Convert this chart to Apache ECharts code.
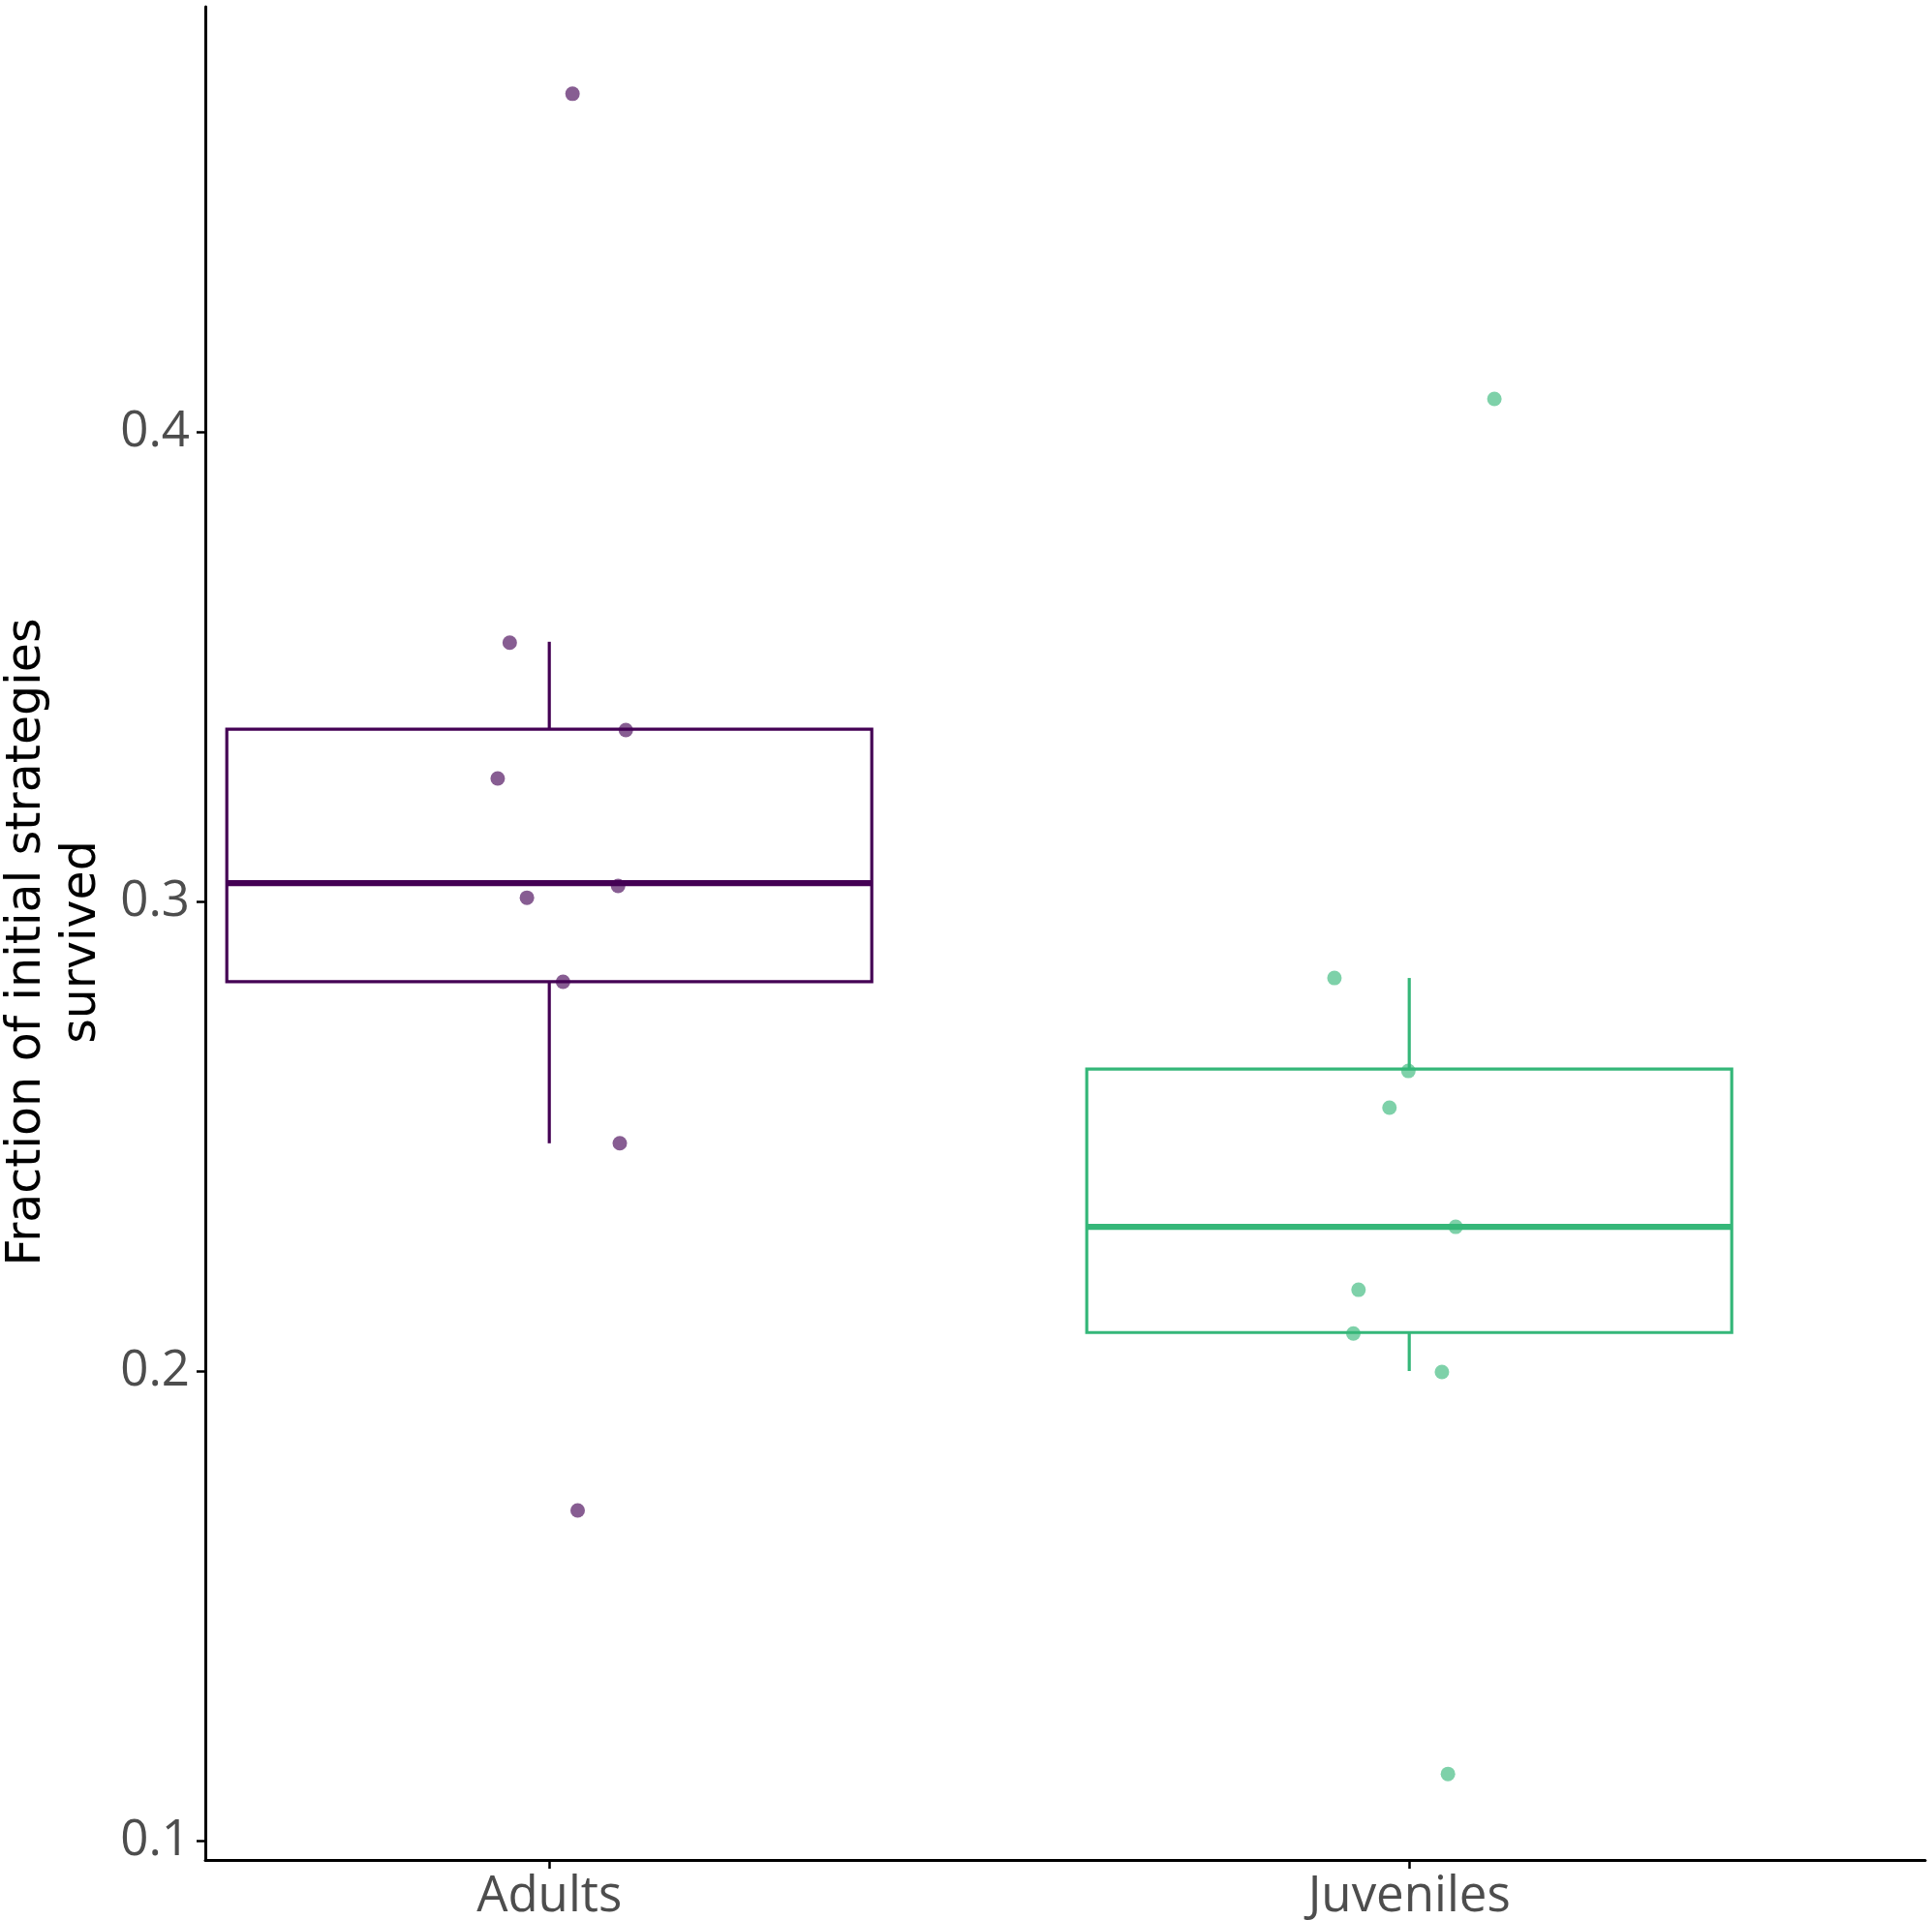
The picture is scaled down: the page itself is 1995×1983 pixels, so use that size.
<!DOCTYPE html>
<html>
<head>
<meta charset="utf-8">
<script src="https://cdn.jsdelivr.net/npm/echarts@6/dist/echarts.min.js"></script>
<style>
  html, body { margin: 0; padding: 0; background: #ffffff; }
  #chart { width: 1995px; height: 1983px; }
</style>
</head>
<body>
<div id="chart"></div>
<script>
// ---- Data ----
const categories = ['Adults', 'Juveniles'];
const yTicks = [0.1, 0.2, 0.3, 0.4];

// Box statistics: [lower whisker, Q1, median, Q3, upper whisker]
const adultsBox = [0.2485, 0.2829, 0.3039, 0.3367, 0.3553];
const juvenilesBox = [0.2000, 0.2082, 0.2307, 0.2643, 0.2837];

// Individual observations (jittered points)
const adultsValues = [0.472, 0.3551, 0.3365, 0.3262, 0.3033, 0.3008, 0.2829, 0.2485, 0.1703];
const adultsJitter = [0.027, -0.046, 0.089, -0.060, 0.080, -0.026, 0.016, 0.082, 0.033];
const juvenilesValues = [0.407, 0.2837, 0.2639, 0.2561, 0.2307, 0.2173, 0.2080, 0.1998, 0.1142];
const juvenilesJitter = [0.099, -0.087, -0.001, -0.023, 0.054, -0.059, -0.065, 0.038, 0.045];

const boxColors = ['#440154', '#35b779'];
const pointColors = ['rgba(68,1,84,0.8)', 'rgba(53,183,121,0.8)'];

// ---- Build series data ----
const boxData = [
  [1].concat(adultsBox),
  [2].concat(juvenilesBox)
];
const adultsPoints = adultsValues.map((v, i) => [1 + adultsJitter[i], v]);
const juvenilesPoints = juvenilesValues.map((v, i) => [2 + juvenilesJitter[i], v]);

const HALF = 0.375;

function renderBox(params, api) {
  const x = api.value(0);
  const lo = api.value(1), q1 = api.value(2), med = api.value(3), q3 = api.value(4), hi = api.value(5);
  const color = boxColors[params.dataIndex];
  const pL3 = api.coord([x - HALF, q3]);
  const pR1 = api.coord([x + HALF, q1]);
  const pMedL = api.coord([x - HALF, med]);
  const pMedR = api.coord([x + HALF, med]);
  const pHi = api.coord([x, hi]);
  const pQ3 = api.coord([x, q3]);
  const pQ1 = api.coord([x, q1]);
  const pLo = api.coord([x, lo]);
  const lw = 3.2;
  return {
    type: 'group',
    children: [
      { type: 'line', shape: { x1: pHi[0], y1: pHi[1], x2: pQ3[0], y2: pQ3[1] }, style: { stroke: color, lineWidth: lw } },
      { type: 'line', shape: { x1: pQ1[0], y1: pQ1[1], x2: pLo[0], y2: pLo[1] }, style: { stroke: color, lineWidth: lw } },
      { type: 'rect', shape: { x: pL3[0], y: pL3[1], width: pR1[0] - pL3[0], height: pR1[1] - pL3[1] },
        style: { stroke: color, fill: 'rgba(255,255,255,0)', lineWidth: lw } },
      { type: 'line', shape: { x1: pMedL[0], y1: pMedL[1], x2: pMedR[0], y2: pMedR[1] }, style: { stroke: color, lineWidth: 6.4 } }
    ]
  };
}

const chart = echarts.init(document.getElementById('chart'), null, { renderer: 'canvas' });
const labelFont = '"Open Sans", Lato, sans-serif';
const titleFont = '"DejaVu Sans", sans-serif';

chart.setOption({
  animation: false,
  backgroundColor: '#ffffff',
  grid: { left: 212, right: 7, top: 7, bottom: 62, containLabel: false, outerBoundsMode: 'none' },
  xAxis: {
    type: 'value',
    min: 0.6,
    max: 2.6,
    splitLine: { show: false },
    axisLine: { show: true, onZero: false, lineStyle: { color: '#000000', width: 3 } },
    axisTick: { show: true, customValues: [1, 2], length: 9, lineStyle: { color: '#000000', width: 2.5 } },
    axisLabel: {
      show: true,
      customValues: [1, 2],
      formatter: v => categories[Math.round(v) - 1] || '',
      fontFamily: labelFont,
      fontSize: 51,
      color: '#4d4d4d',
      margin: 13
    }
  },
  yAxis: {
    type: 'value',
    min: 0.09588,
    max: 0.49052,
    splitLine: { show: false },
    axisLine: { show: true, onZero: false, lineStyle: { color: '#000000', width: 3 } },
    axisTick: { show: true, customValues: yTicks, length: 9, lineStyle: { color: '#000000', width: 2.5 } },
    axisLabel: {
      show: true,
      customValues: yTicks,
      formatter: v => v.toFixed(1),
      fontFamily: labelFont,
      fontSize: 51,
      color: '#4d4d4d',
      margin: 16
    },
    name: 'Fraction of initial strategies\nsurvived',
    nameLocation: 'middle',
    nameRotate: 90,
    nameGap: 96,
    nameTextStyle: {
      fontFamily: titleFont,
      fontSize: 49,
      lineHeight: 57,
      color: '#000000',
      align: 'center',
      padding: [0, 18, 0, 0]
    }
  },
  series: [
    {
      type: 'custom',
      name: 'boxes',
      renderItem: renderBox,
      data: boxData,
      encode: { x: 0, y: [1, 2, 3, 4, 5] },
      z: 2
    },
    {
      type: 'scatter',
      name: 'Adults',
      data: adultsPoints,
      symbolSize: 15,
      itemStyle: { color: pointColors[0] },
      z: 3
    },
    {
      type: 'scatter',
      name: 'Juveniles',
      data: juvenilesPoints,
      symbolSize: 15,
      itemStyle: { color: pointColors[1] },
      z: 3
    }
  ]
});
</script>
</body>
</html>
